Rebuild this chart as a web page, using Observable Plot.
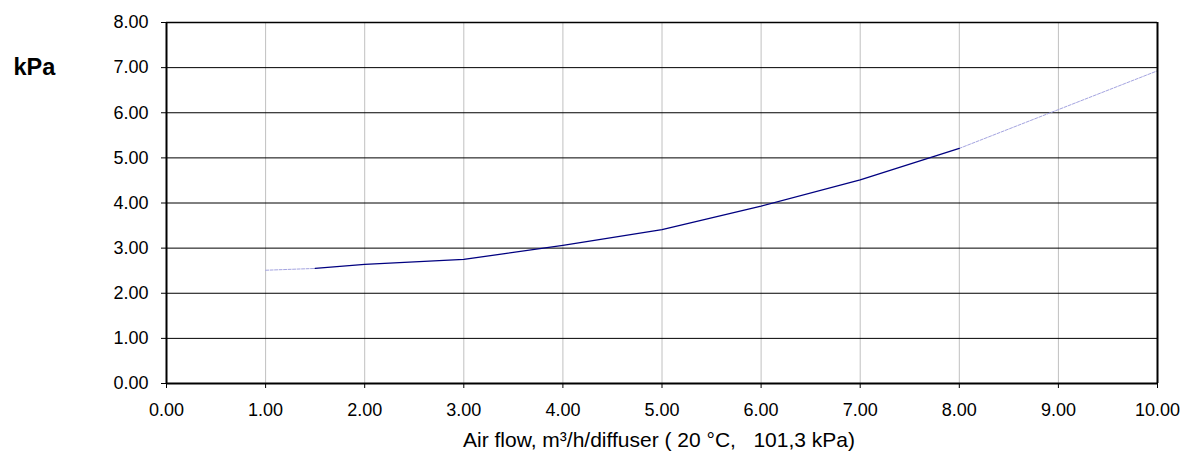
<!DOCTYPE html>
<html>
<head>
<meta charset="utf-8">
<script src="https://cdn.jsdelivr.net/npm/d3@7"></script>
<script src="https://cdn.jsdelivr.net/npm/@observablehq/plot@0.6"></script>
<style>
  html, body { margin: 0; padding: 0; background: #fff; }
  svg { display: block; }
</style>
</head>
<body>
<div id="chart"></div>
<script>
// Tick values
const xTicks = [0, 1, 2, 3, 4, 5, 6, 7, 8, 9, 10];
const yTicks = [0, 1, 2, 3, 4, 5, 6, 7, 8];

// Measured curve (solid)
const mainX = [1.5, 2, 3, 4, 5, 6, 7, 8];
const mainY = [2.55, 2.64, 2.75, 3.06, 3.41, 3.93, 4.51, 5.21];

// Extrapolated parts (light, dotted)
const startX = [1, 1.5];
const startY = [2.51, 2.55];
const endX = [8, 10];
const endY = [5.21, 6.93];

const yUnit = "kPa";
const xTitle = "Air flow, m³/h/diffuser ( 20 °C,\u00a0\u00a0\u00a0101,3 kPa)";

const pts = (xs, ys) => xs.map((x, i) => ({x, y: ys[i]}));

const chart = Plot.plot({
  width: 1182,
  height: 451,
  marginLeft: 166,
  marginRight: 25,
  marginTop: 22,
  marginBottom: 68,
  style: {fontFamily: "'Liberation Sans', Arial, sans-serif", fontSize: "18px", background: "#fff", color: "#000"},
  x: {domain: [0, 10]},
  y: {domain: [0, 8]},
  marks: [
    Plot.gridX(xTicks, {stroke: "#c0c0c0", strokeOpacity: 1, strokeWidth: 1}),
    Plot.gridY(yTicks, {stroke: "#000", strokeOpacity: 1, strokeWidth: 1}),
    Plot.line(pts(startX, startY), {x: "x", y: "y", stroke: "#a4a4e0", strokeWidth: 1, strokeDasharray: "3,1.5"}),
    Plot.line(pts(endX, endY), {x: "x", y: "y", stroke: "#a4a4e0", strokeWidth: 1, strokeDasharray: "3,1.5"}),
    Plot.line(pts(mainX, mainY), {x: "x", y: "y", stroke: "#000080", strokeWidth: 1.3}),
    Plot.ruleX([0], {stroke: "#000", strokeWidth: 2}),
    Plot.ruleX([10], {stroke: "#000", strokeWidth: 2}),
    Plot.ruleY([0], {stroke: "#000", strokeWidth: 2}),
    Plot.ruleY([8], {stroke: "#000", strokeWidth: 1.5}),
    Plot.axisY(yTicks, {tickSize: 5, tickPadding: 13, tickFormat: d3.format(".2f"), label: null, fontSize: 18}),
    Plot.axisX(xTicks, {tickSize: 5, tickPadding: 15, tickFormat: d3.format(".2f"), label: null, fontSize: 18}),
    Plot.text([yUnit], {frameAnchor: "top-left", lineAnchor: "middle", textAnchor: "start", dx: -153, dy: 45, fontWeight: "bold", fontSize: 23.5}),
    Plot.text([xTitle], {frameAnchor: "bottom", lineAnchor: "middle", dx: -3, dy: 57, fontSize: 21})
  ]
});
document.getElementById("chart").appendChild(chart);
</script>
</body>
</html>
